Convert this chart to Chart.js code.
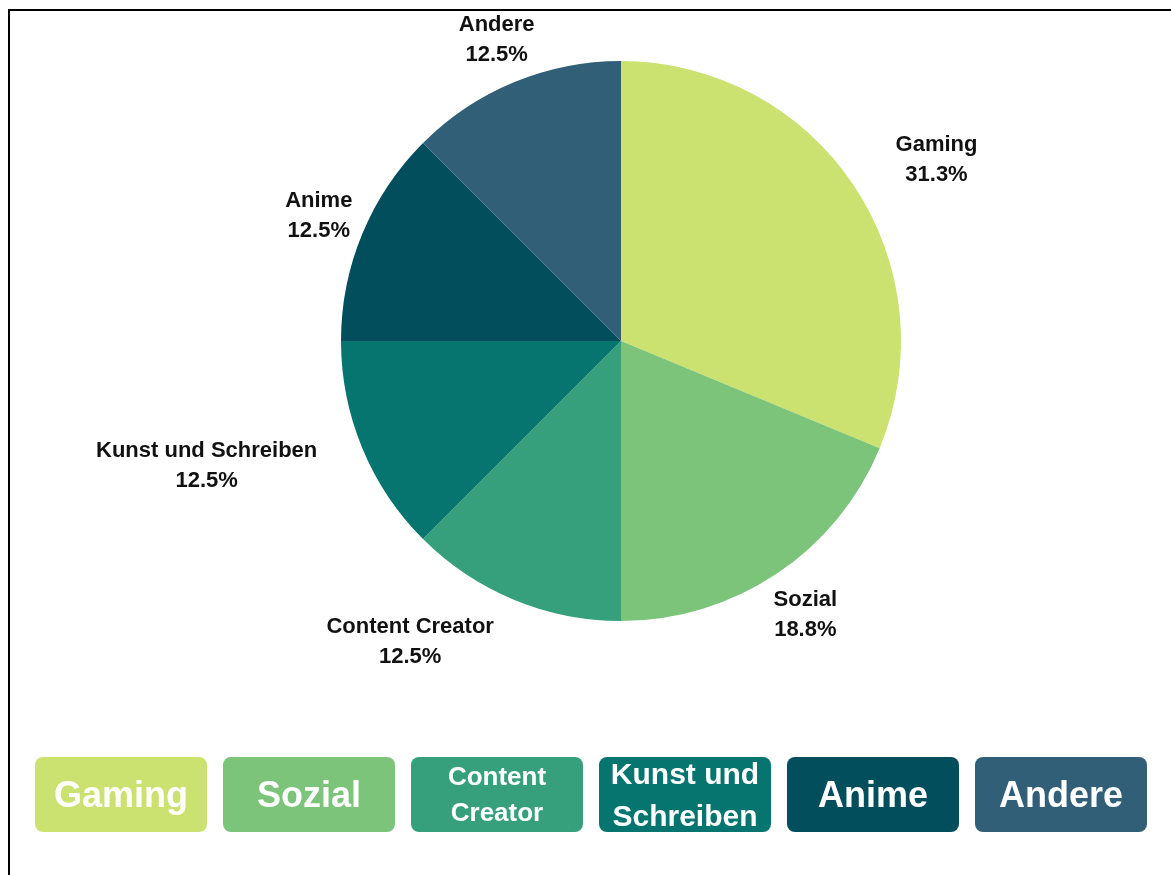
<!DOCTYPE html>
<html lang="de">
<head>
<meta charset="utf-8">
<title>Interessen</title>
<script src="https://cdn.jsdelivr.net/npm/chart.js@4"></script>
<style>
  html, body { margin: 0; padding: 0; background: #fff; }
  body { width: 1171px; height: 875px; overflow: hidden; position: relative;
         font-family: "Liberation Sans", Arial, sans-serif; }
  #frame { position: absolute; left: 8px; top: 9px; right: -10px; bottom: -10px;
           border-top: 2px solid #000; border-left: 2px solid #000; }
  #chartBox { position: absolute; left: 0; top: 0; width: 1171px; height: 875px; }
  #legend { position: absolute; left: 35px; top: 757px; display: flex; gap: 16px; }
  .item { width: 172px; height: 75px; border-radius: 8px; color: #fff; font-weight: bold;
          display: flex; align-items: center; justify-content: center; text-align: center;
          line-height: 1.38; }
</style>
</head>
<body>
<div id="frame"></div>
<div id="chartBox"><canvas id="pie"></canvas></div>
<div id="legend"></div>
<script>
// Interessen: Anzahl Nennungen pro Kategorie
const categories = ['Gaming', 'Sozial', 'Content Creator', 'Kunst und Schreiben', 'Anime', 'Andere'];
const counts = [5, 3, 2, 2, 2, 2];
const colors = ['#cbe271', '#7bc47a', '#36a07c', '#06746f', '#024e5d', '#325f78'];

// Schriftgröße der Legenden-Kacheln
const legendFontSize = [36, 36, 26, 30, 36, 36];
// kleine Verschiebung der Beschriftungen (px)
const labelNudgeX = [32, 0, -64, -35, 6, 5];
const labelNudgeY = [0, 3, 0, 0, 0, 0];

const total = counts.reduce((a, b) => a + b, 0);
const percents = counts.map(v => (v / total * 100).toFixed(1) + '%');

// Beschriftungen außen: Name + Prozent
const outsideLabels = {
  id: 'outsideLabels',
  afterDatasetsDraw(chart) {
    const ctx = chart.ctx;
    const meta = chart.getDatasetMeta(0);
    const fontSize = 22, lineH = 30;
    ctx.save();
    ctx.font = 'bold ' + fontSize + 'px "Liberation Sans", Arial, sans-serif';
    ctx.fillStyle = '#111';
    ctx.textAlign = 'center';
    ctx.textBaseline = 'middle';
    meta.data.forEach((arc, i) => {
      const p = arc.getProps(['x', 'y', 'startAngle', 'endAngle', 'outerRadius'], true);
      const mid = (p.startAngle + p.endAngle) / 2;
      const dx = Math.cos(mid), dy = Math.sin(mid);
      const lines = [categories[i], percents[i]];
      const w = Math.max(...lines.map(t => ctx.measureText(t).width));
      const h = lineH + fontSize;
      const r = p.outerRadius + 20;
      const cx = p.x + dx * r + dx * w / 2 + labelNudgeX[i];
      const cy = p.y + dy * r + dy * h / 2 + labelNudgeY[i];
      ctx.fillText(lines[0], cx, cy - lineH / 2);
      ctx.fillText(lines[1], cx, cy + lineH / 2);
    });
    ctx.restore();
  }
};

new Chart(document.getElementById('pie'), {
  type: 'pie',
  data: {
    labels: categories,
    datasets: [{
      data: counts,
      backgroundColor: colors,
      borderWidth: 0
    }]
  },
  options: {
    responsive: true,
    maintainAspectRatio: false,
    animation: false,
    layout: { padding: { left: 341, right: 270, top: 61, bottom: 254 } },
    plugins: {
      legend: { display: false },
      tooltip: { enabled: false }
    }
  },
  plugins: [outsideLabels]
});

// Legende als farbige Kacheln
const legend = document.getElementById('legend');
categories.forEach((name, i) => {
  const el = document.createElement('div');
  el.className = 'item';
  el.style.background = colors[i];
  el.style.fontSize = legendFontSize[i] + 'px';
  el.textContent = name;
  legend.appendChild(el);
});
</script>
</body>
</html>
